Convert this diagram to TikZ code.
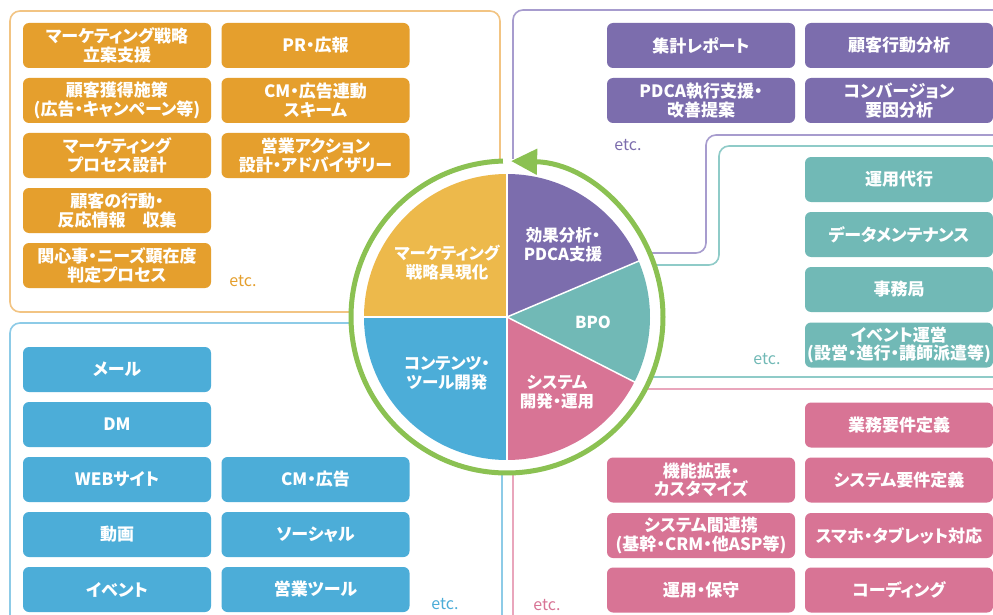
\documentclass[tikz,border=0pt]{standalone}
\usepackage{fontspec}
\setmainfont{Noto Sans CJK JP}[RawFeature=+palt]
\usetikzlibrary{arrows.meta}
\definecolor{obox}{HTML}{E59F2D}
\definecolor{oslice}{HTML}{EDB94B}
\definecolor{oline}{HTML}{F2C483}
\definecolor{pbox}{HTML}{7C6DAD}
\definecolor{pline}{HTML}{A79CCE}
\definecolor{tbox}{HTML}{71B9B6}
\definecolor{tline}{HTML}{8FCBC8}
\definecolor{kbox}{HTML}{D87495}
\definecolor{kline}{HTML}{E9A6BC}
\definecolor{bbox}{HTML}{4CADD8}
\definecolor{bline}{HTML}{8DCBE7}
\definecolor{ringc}{HTML}{8BC152}
\tikzset{
  item/.style={rounded corners=6pt, minimum width=188pt, minimum height=45pt, inner sep=0pt,
    text=white, align=center, font=\fontsize{17}{18.5}\selectfont\bfseries},
  obx/.style={item, fill=obox},
  pbx/.style={item, fill=pbox},
  tbx/.style={item, fill=tbox},
  kbx/.style={item, fill=kbox},
  bbx/.style={item, fill=bbox},
  frame/.style={line width=1.6pt, rounded corners=10pt},
  etcs/.style={font=\fontsize{16}{18}\selectfont, inner sep=0pt},
  slab/.style={text=white, align=center, font=\fontsize{16.5}{19}\selectfont\bfseries, inner sep=0pt},
  sep/.style={draw=white, line width=1.5pt},
}
\begin{document}
\begin{tikzpicture}[x=1pt,y=-1pt]
\path[use as bounding box] (0,0) rectangle (993,615);
\clip (0,0) rectangle (993,615);
\fill[white] (0,0) rectangle (993,615);
% frames
\draw[frame, draw=oline] (10,11) rectangle (500,312);
\draw[frame, draw=pline] (513,330) -- (513,10) -- (1010,10);
\draw[frame, draw=pline] (600,253) -- (706,253) -- (706,135) -- (1010,135);
\draw[frame, draw=tline] (600,265) -- (719,265) -- (719,146) -- (1010,146);
\draw[frame, draw=tline] (600,377) -- (1010,377);
\draw[frame, draw=kline] (513,700) -- (513,389) -- (1010,389);
\draw[frame, draw=bline] (10,700) -- (10,323) -- (502,323) -- (502,700);
% circle
\coordinate (C) at (507,317);
\fill[white] (C) circle (158pt);
\fill[oslice] (C) -- ++(-90:143) arc[start angle=-90, end angle=-180, radius=143] -- cycle;
\fill[pbox] (C) -- ++(-23:143) arc[start angle=-23, end angle=-90, radius=143] -- cycle;
\fill[tbox] (C) -- ++(27:143) arc[start angle=27, end angle=-23, radius=143] -- cycle;
\fill[kbox] (C) -- ++(90:143) arc[start angle=90, end angle=27, radius=143] -- cycle;
\fill[bbox] (C) -- ++(180:143) arc[start angle=180, end angle=90, radius=143] -- cycle;
\draw[sep] (C) -- ++(-90:144);
\draw[sep] (C) -- ++(90:144);
\draw[sep] (C) -- ++(180:144);
\draw[sep] (C) -- ++(-23:144);
\draw[sep] (C) -- ++(27:144);
\draw[ringc, line width=5pt, -{Triangle[length=26pt,width=25pt]}] (C) ++(-91.5:156) arc[start angle=-91.5, end angle=-448.5, radius=156];
% slice labels
\node[slab] (s1) at (447,263) {マーケティング\\戦略具現化};
\node[slab] (s2) at (563,245) {効果分析・\\PDCA支援};
\node[slab] (s3) at (593,322) {BPO};
\node[slab] (s4) at (557,392) {システム\\開発・運用};
\node[slab] (s5) at (447,373) {コンテンツ・\\ツール開発};
% orange
\node[obx] (o11) at (117,45.5) {マーケティング戦略\\立案支援};
\node[obx] (o12) at (315.5,45.5) {PR・広報};
\node[obx] (o21) at (117,100.5) {顧客獲得施策\\(広告・キャンペーン等)};
\node[obx] (o22) at (315.5,100.5) {CM・広告連動\\スキーム};
\node[obx] (o31) at (117,155.5) {マーケティング\\プロセス設計};
\node[obx] (o32) at (315.5,155.5) {営業アクション\\設計・アドバイザリー};
\node[obx] (o41) at (117,210.5) {顧客の行動・\\反応情報　収集};
\node[obx] (o51) at (117,265.5) {関心事・ニーズ顕在度\\判定プロセス};
\node[etcs, text=obox] (oetc) at (243,281) {etc.};
% purple
\node[pbx] (p11) at (701,45.5) {集計レポート};
\node[pbx] (p12) at (899,45.5) {顧客行動分析};
\node[pbx] (p21) at (701,100.5) {PDCA執行支援・\\改善提案};
\node[pbx] (p22) at (899,100.5) {コンバージョン\\要因分析};
\node[etcs, text=pbox] (petc) at (628,145) {etc.};
% teal
\node[tbx] (t1) at (899,179.5) {運用代行};
\node[tbx] (t2) at (899,234.5) {データメンテナンス};
\node[tbx] (t3) at (899,289.5) {事務局};
\node[tbx] (t4) at (899,345) {イベント運営\\(設営・進行・講師派遣等)};
\node[etcs, text=tbox] (tetc) at (767,359) {etc.};
% pink
\node[kbx] (k12) at (899,425) {業務要件定義};
\node[kbx] (k21) at (701,480) {機能拡張・\\カスタマイズ};
\node[kbx] (k22) at (899,480) {システム要件定義};
\node[kbx] (k31) at (701,535.5) {システム間連携\\(基幹・CRM・他ASP等)};
\node[kbx] (k32) at (899,535.5) {スマホ・タブレット対応};
\node[kbx] (k41) at (701,590) {運用・保守};
\node[kbx] (k42) at (899,590) {コーディング};
\node[etcs, text=kbox] (ketc) at (547,605) {etc.};
% blue
\node[bbx] (b11) at (117,369.5) {メール};
\node[bbx] (b21) at (117,424.5) {DM};
\node[bbx] (b31) at (117,479.5) {WEBサイト};
\node[bbx] (b32) at (315.5,479.5) {CM・広告};
\node[bbx] (b41) at (117,534.5) {動画};
\node[bbx] (b42) at (315.5,534.5) {ソーシャル};
\node[bbx] (b51) at (117,589.5) {イベント};
\node[bbx] (b52) at (315.5,589.5) {営業ツール};
\node[etcs, text=bbox] (betc) at (445,604) {etc.};
\end{tikzpicture}
\end{document}
